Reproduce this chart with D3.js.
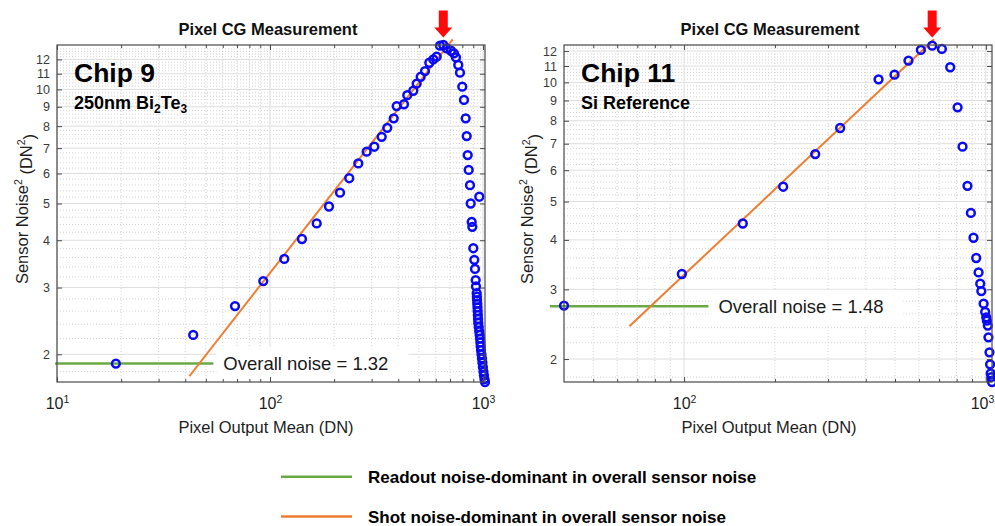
<!DOCTYPE html>
<html>
<head>
<meta charset="utf-8">
<script src="https://cdn.jsdelivr.net/npm/d3@7"></script>
<style>
  body { margin: 0; background: #fff; }
  svg { display: block; }
  text { font-family: "Liberation Sans", Arial, Helvetica, sans-serif; }
</style>
</head>
<body>
<svg id="chart" width="995" height="526"></svg>
<script>
// ---- Chip 9 (250nm Bi2Te3): pixel output mean (DN) vs sensor noise^2 (DN^2)
const chip9Mean = [18.9, 43.6, 68.5, 93.0, 116.7, 141.3, 165.7, 189.2, 213.2, 235.6,
  259.8, 284.4, 308.9, 334.5, 355.3, 380.9, 393.4, 425.6, 441.1, 470.8,
  488.3, 509.9, 534.2, 559.8, 584.5, 606.3, 628.1, 651.0, 675.4, 707.5,
  730.7, 746.7, 765.6, 779.8, 799.4, 814.2, 829.4, 838.5, 847.6, 856.9,
  868.9, 960.8, 875.6, 885.1, 890.9, 900.6, 910.5, 917.3, 924.2, 927.2,
  934, 936, 938, 940, 942, 944, 946, 948, 950, 955,
  960, 965, 969, 972, 975, 979, 984, 989, 994, 999,
  1005, 1010, 1016, 1022];
const chip9Noise = [1.89, 2.25, 2.68, 3.12, 3.57, 4.03, 4.43, 4.91, 5.34, 5.83,
  6.38, 6.85, 7.06, 7.50, 7.92, 8.39, 9.04, 9.14, 9.66, 9.92,
  10.36, 10.80, 11.18, 11.76, 12.0, 12.2, 13.05, 13.1, 12.84, 12.65,
  12.45, 12.15, 11.6, 11.07, 10.17, 9.38, 8.39, 7.53, 6.71, 6.13,
  5.59, 5.21, 5.0, 4.47, 4.34, 3.81, 3.55, 3.36, 3.14, 3.02,
  2.90, 2.84, 2.78, 2.72, 2.66, 2.60, 2.54, 2.48, 2.42, 2.36,
  2.30, 2.25, 2.20, 2.15, 2.10, 2.05, 2.00, 1.95, 1.90, 1.85,
  1.80, 1.76, 1.72, 1.69];
const chip9MeanDomain = [10, 1022];
const chip9NoiseDomain = [1.69, 13.1];
const chip9ShotFitMean = [41.8, 720.6];
const chip9ShotFitNoise = [1.75, 13.56];
const chip9ReadoutMean = [9.8, 54.2];
const chip9ReadoutNoise = [1.89, 1.89];

// ---- Chip 11 (Si reference)
const chip11Mean = [40, 98.3, 156.5, 213, 272, 329, 441, 498, 554, 609,
  664, 715, 762, 806, 837, 869, 892, 910, 929, 946,
  958, 966, 983, 995, 1003, 1008, 1015, 1020, 1028, 1033,
  1038, 1043, 1048];
const chip11Noise = [2.73, 3.28, 4.40, 5.45, 6.59, 7.67, 10.18, 10.46, 11.35, 12.08,
  12.38, 12.15, 10.92, 8.65, 6.88, 5.48, 4.68, 4.05, 3.60, 3.31,
  3.10, 2.97, 2.76, 2.63, 2.55, 2.50, 2.43, 2.27, 2.08, 1.94,
  1.84, 1.80, 1.75];
const chip11MeanDomain = [40, 1048];
const chip11NoiseDomain = [1.75, 12.43];
const chip11ShotFitMean = [65.9, 674];
const chip11ShotFitNoise = [2.42, 12.85];
const chip11ReadoutMean = [35.9, 120.4];
const chip11ReadoutNoise = [2.72, 2.72];

// ---- Labels
const yTickValues = [2, 3, 4, 5, 6, 7, 8, 9, 10, 11, 12];
const xTickDecades = [10, 100, 1000];
const chipNames = ["Chip 9", "Chip 11"];
const chipSubtitles = [
  [["250nm Bi", false], ["2", true], ["Te", false], ["3", true]],
  [["Si Reference", false]]
];
const overallNoiseLabels = ["Overall noise = 1.32", "Overall noise = 1.48"];
const panelTitle = "Pixel CG Measurement";
const xAxisTitle = "Pixel Output Mean (DN)";
const legendLabels = [
  "Readout noise-dominant in overall sensor noise",
  "Shot noise-dominant in overall sensor noise"
];

// ---- Styling
const BLUE = "#0a0af5";
const GREEN = "#6aaa46";
const ORANGE = "#ee7d31";
const RED = "#ff0a0a";
const AXIS = "#4a4a4a";
const WIDTH = 995;

const svg = d3.select("#chart");

const panels = [
  {
    mean: chip9Mean, noise: chip9Noise, xDom: chip9MeanDomain, yDom: chip9NoiseDomain,
    fitX: chip9ShotFitMean, fitY: chip9ShotFitNoise,
    readX: chip9ReadoutMean, readY: chip9ReadoutNoise,
    name: chipNames[0], sub: chipSubtitles[0], noiseText: overallNoiseLabels[0],
    frame: { left: 57, right: 485, top: 45, bottom: 382 },
    titleX: 268, xLabelX: 266, yLabelX: 28, textX: 74
  },
  {
    mean: chip11Mean, noise: chip11Noise, xDom: chip11MeanDomain, yDom: chip11NoiseDomain,
    fitX: chip11ShotFitMean, fitY: chip11ShotFitNoise,
    readX: chip11ReadoutMean, readY: chip11ReadoutNoise,
    name: chipNames[1], sub: chipSubtitles[1], noiseText: overallNoiseLabels[1],
    frame: { left: 564, right: 992, top: 45, bottom: 382 },
    titleX: 770, xLabelX: 769, yLabelX: 533, textX: 581
  }
];

function styleAxis(sel) {
  sel.select(".domain").remove();
  sel.selectAll(".tick line").attr("stroke", AXIS).attr("stroke-width", 1);
  sel.attr("font-family", null).attr("font-size", null);
}

panels.forEach(p => {
  const f = p.frame;
  const x = d3.scaleLog().domain(p.xDom).range([f.left, f.right]);
  const y = d3.scaleLog().domain(p.yDom).range([f.bottom, f.top]);
  const g = svg.append("g");

  // minor positions on the log axes
  const xMinor = [];
  [10, 100].forEach(dec => d3.range(2, 10).forEach(k => {
    const v = k * dec;
    if (v > p.xDom[0] && v < p.xDom[1]) xMinor.push(v);
  }));
  const xMajor = xTickDecades.filter(v => v >= p.xDom[0] && v <= p.xDom[1]);
  const yMinor = d3.range(16, 134, 2).map(v => v / 10)
    .filter(v => v > p.yDom[0] && v < p.yDom[1] && Math.abs(v - Math.round(v)) > 1e-6);
  const yMajor = yTickValues.filter(v => v >= p.yDom[0] && v <= p.yDom[1]);

  // grid
  const grid = g.append("g");
  grid.selectAll(".gxm").data(xMinor).join("line")
    .attr("x1", d => x(d)).attr("x2", d => x(d)).attr("y1", f.top).attr("y2", f.bottom)
    .attr("stroke", "#c9c9c9").attr("stroke-width", 0.8).attr("stroke-dasharray", "1,2");
  grid.selectAll(".gym").data(yMinor).join("line")
    .attr("y1", d => y(d)).attr("y2", d => y(d)).attr("x1", f.left).attr("x2", f.right)
    .attr("stroke", "#c9c9c9").attr("stroke-width", 0.8).attr("stroke-dasharray", "1,2");
  grid.selectAll(".gxM").data(xMajor).join("line")
    .attr("x1", d => x(d)).attr("x2", d => x(d)).attr("y1", f.top).attr("y2", f.bottom)
    .attr("stroke", "#dedede").attr("stroke-width", 1);
  grid.selectAll(".gyM").data(yMajor).join("line")
    .attr("y1", d => y(d)).attr("y2", d => y(d)).attr("x1", f.left).attr("x2", f.right)
    .attr("stroke", "#dedede").attr("stroke-width", 1);

  const boxLayer = g.append("g");

  // readout-noise level (green) and shot-noise fit (orange)
  const line = d3.line().x(d => x(d[0])).y(d => y(d[1]));
  g.append("path").datum(p.readX.map((v, i) => [v, p.readY[i]]))
    .attr("d", line).attr("fill", "none").attr("stroke", GREEN).attr("stroke-width", 2.5);
  g.append("path").datum(p.fitX.map((v, i) => [v, p.fitY[i]]))
    .attr("d", line).attr("fill", "none").attr("stroke", ORANGE).attr("stroke-width", 2);

  // measured points
  g.selectAll(".pt").data(p.mean.map((v, i) => [v, p.noise[i]])).join("circle")
    .attr("cx", d => x(d[0])).attr("cy", d => y(d[1])).attr("r", 3.9)
    .attr("fill", "none").attr("stroke", BLUE).attr("stroke-width", 2.5);

  // axes: ticks pointing inward on all four sides
  const bottom = g.append("g").attr("transform", `translate(0,${f.bottom})`)
    .call(d3.axisBottom(x).tickValues(xMajor).tickSizeInner(-5).tickSizeOuter(0).tickPadding(16).tickFormat(() => ""));
  styleAxis(bottom);
  bottom.selectAll(".tick text").each(function (d) {
    const t = d3.select(this).attr("fill", "#1e1e1e").attr("dy", "0.71em");
    t.append("tspan").attr("font-size", 16).text("10");
    t.append("tspan").attr("font-size", 10.5).attr("dy", "-0.65em").text(Math.round(Math.log10(d)));
    // keep the last decade label inside the page edge
    const box = this.getBBox();
    const overflow = x(d) + box.x + box.width - (WIDTH - 1);
    if (overflow > 0) t.attr("x", -overflow);
  });
  const bottomMinor = g.append("g").attr("transform", `translate(0,${f.bottom})`)
    .call(d3.axisBottom(x).tickValues(xMinor).tickSizeInner(-3).tickSizeOuter(0).tickFormat(() => ""));
  styleAxis(bottomMinor);
  const top = g.append("g").attr("transform", `translate(0,${f.top})`)
    .call(d3.axisTop(x).tickValues(xMajor).tickSizeInner(-5).tickSizeOuter(0).tickFormat(() => ""));
  styleAxis(top);
  const topMinor = g.append("g").attr("transform", `translate(0,${f.top})`)
    .call(d3.axisTop(x).tickValues(xMinor).tickSizeInner(-3).tickSizeOuter(0).tickFormat(() => ""));
  styleAxis(topMinor);

  const left = g.append("g").attr("transform", `translate(${f.left},0)`)
    .call(d3.axisLeft(y).tickValues(yMajor).tickSizeInner(-5).tickSizeOuter(0).tickPadding(7).tickFormat(d3.format("d")));
  styleAxis(left);
  left.selectAll(".tick text").attr("font-size", 12.5).attr("fill", "#3a3a3a");
  const right = g.append("g").attr("transform", `translate(${f.right},0)`)
    .call(d3.axisRight(y).tickValues(yMajor).tickSizeInner(-5).tickSizeOuter(0).tickFormat(() => ""));
  styleAxis(right);

  // frame
  g.append("rect").attr("x", f.left).attr("y", f.top)
    .attr("width", f.right - f.left).attr("height", f.bottom - f.top)
    .attr("fill", "none").attr("stroke", AXIS).attr("stroke-width", 1.2);

  // overall-noise annotation next to the readout level
  const lx = x(p.readX[1]) + 10;
  const ly = y(p.readY[1]);
  const label = g.append("text").attr("x", lx).attr("y", ly + 6.5)
    .attr("font-size", 18.5).attr("fill", "#1a1a1a").text(p.noiseText);
  const bb = label.node().getBBox();
  boxLayer.append("rect").attr("x", bb.x - 7).attr("y", ly - 16.5)
    .attr("width", bb.width + 27).attr("height", Math.min(35, f.bottom - (ly - 16.5)))
    .attr("fill", "#fff");

  // titles
  g.append("text").attr("x", p.titleX).attr("y", 35).attr("text-anchor", "middle")
    .attr("font-size", 16.5).attr("font-weight", "bold").attr("fill", "#111").text(panelTitle);
  g.append("text").attr("x", p.xLabelX).attr("y", 433).attr("text-anchor", "middle")
    .attr("font-size", 16.5).attr("fill", "#1e1e1e").text(xAxisTitle);
  const yl = g.append("text")
    .attr("transform", `translate(${p.yLabelX},209) rotate(-90)`)
    .attr("text-anchor", "middle").attr("font-size", 16.5).attr("fill", "#1e1e1e");
  yl.append("tspan").text("Sensor Noise");
  yl.append("tspan").attr("font-size", 10.5).attr("dy", "-0.6em").text("2");
  yl.append("tspan").attr("dy", "0.6em").text(" (DN");
  yl.append("tspan").attr("font-size", 10.5).attr("dy", "-0.6em").text("2");
  yl.append("tspan").attr("dy", "0.6em").text(")");

  // chip name and sample description
  g.append("text").attr("x", p.textX).attr("y", 82)
    .attr("font-size", 26.5).attr("font-weight", "bold").attr("fill", "#000").text(p.name);
  const st = g.append("text").attr("x", p.textX).attr("y", 109)
    .attr("font-size", 18).attr("font-weight", "bold").attr("fill", "#000");
  p.sub.forEach(([s, isSub], i) => {
    const prevSub = i > 0 && p.sub[i - 1][1];
    const ts = st.append("tspan").text(s);
    if (isSub) ts.attr("font-size", 12).attr("dy", 4);
    else if (prevSub) ts.attr("dy", -4);
  });

  // red arrow marking the peak of the noise curve
  const pk = d3.maxIndex(p.noise);
  const ax = x(p.mean[pk]);
  const tipY = f.top - 7.5;
  g.append("path")
    .attr("d", `M${ax - 4.5},${tipY - 27} L${ax + 4.5},${tipY - 27} L${ax + 4.5},${tipY - 10} L${ax + 9},${tipY - 10} L${ax},${tipY} L${ax - 9},${tipY - 10} L${ax - 4.5},${tipY - 10} Z`)
    .attr("fill", RED);
});

// legend
const legendColors = [GREEN, ORANGE];
const legendRows = [476.7, 516.5];
const legend = svg.append("g");
legendLabels.forEach((lab, i) => {
  legend.append("line").attr("x1", 281).attr("x2", 352)
    .attr("y1", legendRows[i]).attr("y2", legendRows[i])
    .attr("stroke", legendColors[i]).attr("stroke-width", 2.5);
  legend.append("text").attr("x", 368).attr("y", legendRows[i] + 6.5)
    .attr("font-size", 17).attr("font-weight", "bold").attr("fill", "#000").text(lab);
});
</script>
</body>
</html>
